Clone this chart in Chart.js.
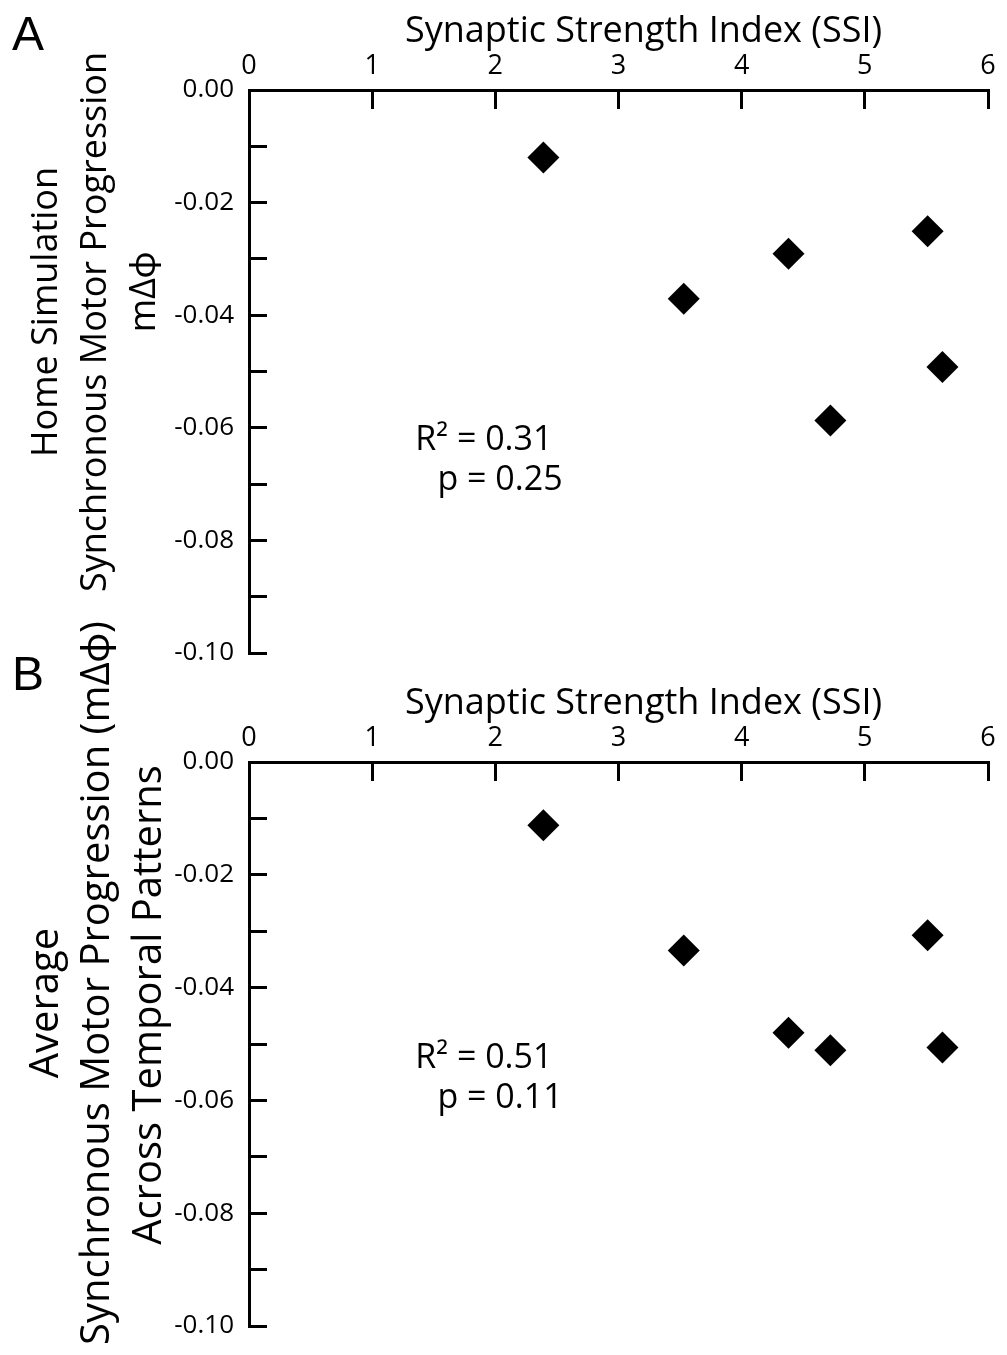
<!DOCTYPE html>
<html>
<head>
<meta charset="utf-8">
<script src="https://cdn.jsdelivr.net/npm/chart.js@4.4.1/dist/chart.umd.min.js"></script>
<style>
  html, body { margin: 0; background: #fff; overflow: hidden; }
  .panel { position: absolute; left: 0; top: 0; width: 1007px; height: 1355px; }
  canvas { display: block; }
</style>
</head>
<body>
<div class="panel"><canvas id="chart-a"></canvas></div>
<div class="panel"><canvas id="chart-b"></canvas></div>
<script>
// --- Data ---
const SSI = [2.39, 3.53, 4.38, 4.72, 5.51, 5.63];
const HOME_MDPHI = [-0.0120, -0.0371, -0.0291, -0.0587, -0.0251, -0.0492];
const AVG_MDPHI = [-0.0112, -0.0334, -0.0480, -0.0511, -0.0307, -0.0506];

const X_MIN = 0, X_MAX = 6, X_STEP = 1;
const Y_MIN = -0.10, Y_MAX = 0, Y_STEP = 0.01;

const X_TITLE = 'Synaptic Strength Index (SSI)';
const Y_TITLE_A = ['Home Simulation', 'Synchronous Motor Progression', 'm\u0394\u03D5'];
const Y_TITLE_B = ['Average', 'Synchronous Motor Progression (m\u0394\u03D5)', 'Across Temporal Patterns'];
const STATS_A = ['R\u00B2 = 0.31', 'p = 0.25'];
const STATS_B = ['R\u00B2 = 0.51', 'p = 0.11'];

const FONT = '"Open Sans", Lato, sans-serif';

// --- Text plugin: panel letter, axis titles, stats ---
const figureText = {
  id: 'figureText',
  afterDraw(chart, args, opts) {
    const { ctx, chartArea, scales } = chart;
    ctx.save();
    ctx.fillStyle = '#000';

    // panel letter
    ctx.font = '48px "Liberation Sans", Arial, sans-serif';
    ctx.textAlign = 'left';
    ctx.textBaseline = 'alphabetic';
    ctx.fillText(opts.letter, 12, chartArea.top + opts.letterDy);

    // x title (top)
    ctx.font = `36px ${FONT}`;
    ctx.textAlign = 'center';
    ctx.textBaseline = 'middle';
    ctx.fillText(X_TITLE, (chartArea.left + chartArea.right) / 2 + 25, chartArea.top - 58);

    // y title, rotated
    ctx.font = `${opts.yTitleSize}px ${FONT}`;
    opts.yTitle.forEach((line, i) => {
      ctx.save();
      ctx.translate(opts.yTitleX[i], chartArea.top + opts.yTitleDy[i]);
      ctx.rotate(-Math.PI / 2);
      ctx.fillText(line, 0, 0);
      ctx.restore();
    });

    // stats
    ctx.font = `34px ${FONT}`;
    ctx.textAlign = 'left';
    opts.stats.forEach((line, i) => {
      const [xv, yv] = opts.statsAt[i];
      ctx.fillText(line, scales.x.getPixelForValue(xv), scales.y.getPixelForValue(yv));
    });
    ctx.restore();
  },
};

function makeChart(id, values, padding, text) {
  return new Chart(document.getElementById(id), {
    type: 'scatter',
    data: {
      datasets: [{
        data: SSI.map((x, i) => ({ x, y: values[i] })),
        pointStyle: 'rectRot',
        pointRadius: 16,
        pointHoverRadius: 16,
        backgroundColor: '#000',
        borderWidth: 0,
      }],
    },
    options: {
      responsive: true,
      maintainAspectRatio: false,
      animation: false,
      layout: { padding },
      plugins: {
        legend: { display: false },
        tooltip: { enabled: false },
        figureText: text,
      },
      scales: {
        x: {
          type: 'linear',
          position: 'top',
          min: X_MIN, max: X_MAX,
          afterFit: (s) => { s.height = 90; s.paddingLeft = 0; s.paddingRight = 0; },
          border: { display: true, color: '#000', width: 3 },
          grid: { drawOnChartArea: false, drawTicks: true, tickLength: -19, tickWidth: 3, tickColor: '#000' },
          ticks: { stepSize: X_STEP, color: '#000', padding: 26, font: { family: FONT, size: 27 } },
        },
        y: {
          type: 'linear',
          position: 'left',
          min: Y_MIN, max: Y_MAX,
          afterFit: (s) => { s.width = 249; s.paddingTop = 0; s.paddingBottom = 0; },
          border: { display: true, color: '#000', width: 3 },
          grid: { drawOnChartArea: false, drawTicks: true, tickLength: -18, tickWidth: 3, tickColor: '#000' },
          ticks: {
            stepSize: Y_STEP, autoSkip: false, color: '#000', padding: 33,
            font: { family: FONT, size: 26 },
            callback: (v) => (Math.round(v * 100) % 2 === 0 ? (v === 0 ? '0.00' : v.toFixed(2)) : ''),
          },
        },
      },
    },
    plugins: [figureText],
  });
}

makeChart('chart-a', HOME_MDPHI, { top: 0, left: 0, right: 19, bottom: 702 }, {
  letter: 'A', letterDy: -40,
  yTitle: Y_TITLE_A, yTitleSize: 36, yTitleX: [47, 96, 145], yTitleDy: [222, 232, 202],
  stats: STATS_A, statsAt: [[1.35, -0.0622], [1.53, -0.0693]],
});

makeChart('chart-b', AVG_MDPHI, { top: 672, left: 0, right: 19, bottom: 29 }, {
  letter: 'B', letterDy: -72,
  yTitle: Y_TITLE_B, yTitleSize: 40, yTitleX: [47, 98, 150], yTitleDy: [241, 221, 243],
  stats: STATS_B, statsAt: [[1.35, -0.0525], [1.53, -0.0596]],
});
</script>
</body>
</html>
